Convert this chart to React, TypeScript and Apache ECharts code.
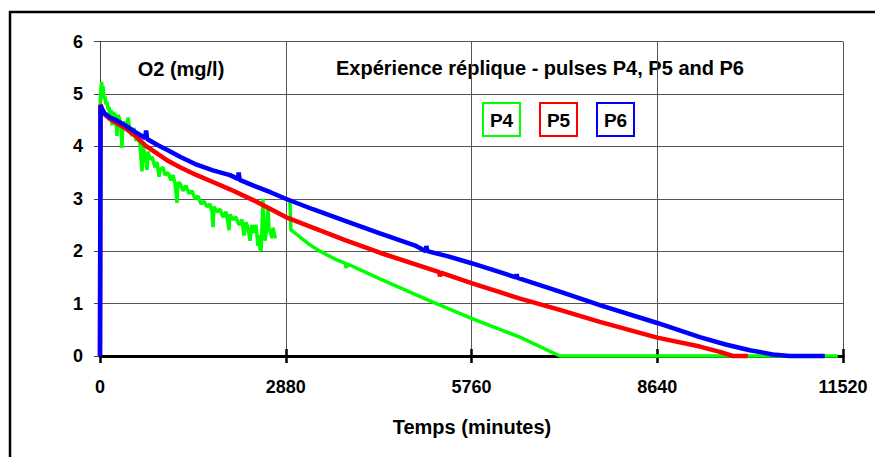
import React, { useEffect, useRef } from "react";
import * as echarts from "echarts";

const xTickStep = 2880;
const xMax = 11520;
const yMax = 6;
const seriesNames = ["P4", "P5", "P6"];
const seriesColors = ["#00ff00", "#ff0000", "#0000ff"];
const chartTitle = "Expérience réplique - pulses P4, P5 and P6";
const yTitle = "O2 (mg/l)";
const xTitle = "Temps (minutes)";

// P4 (green) — time in minutes, O2 in mg/l
const p4Data: (number | null)[][] = [
  [0, 0], [5, 4.9], [15, 5.1], [26, 5.23], [39, 5.0], [46, 5.15], [62, 4.9], [78, 4.95],
  [93, 4.8], [108, 4.85], [124, 4.7], [140, 4.75], [155, 4.55], [170, 4.7], [186, 4.4],
  [201, 4.65], [232, 4.6], [248, 4.45], [264, 4.2], [279, 4.6], [310, 4.5], [326, 4.35],
  [341, 3.97], [356, 4.45], [388, 4.45], [419, 4.3], [434, 4.55], [465, 4.3], [496, 4.2],
  [527, 4.35], [558, 4.1], [589, 4.2], [620, 4.05], [651, 3.52], [667, 4.0], [698, 3.85],
  [729, 3.55], [744, 3.9], [775, 3.75], [806, 3.8], [853, 3.6], [884, 3.7], [915, 3.42],
  [930, 3.55], [977, 3.6], [1008, 3.45], [1054, 3.5], [1100, 3.35], [1132, 3.45], [1163, 3.3],
  [1194, 2.92], [1209, 3.3], [1240, 3.3], [1287, 3.15], [1333, 3.25], [1380, 3.1], [1426, 3.15],
  [1473, 3.0], [1519, 3.05], [1566, 2.9], [1612, 2.95], [1659, 2.85], [1705, 2.9], [1736, 2.75],
  [1752, 2.46], [1767, 2.85], [1814, 2.75], [1860, 2.8], [1907, 2.65], [1953, 2.75], [1984, 2.55],
  [2000, 2.4], [2015, 2.7], [2062, 2.6], [2108, 2.65], [2155, 2.5], [2201, 2.6], [2232, 2.3],
  [2263, 2.55], [2294, 2.45], [2325, 2.2], [2356, 2.5], [2387, 2.35], [2418, 2.5], [2449, 2.1],
  [2465, 2.3], [2480, 2.05], [2496, 2.0], [2511, 2.4], [2527, 3.0], [2542, 2.5], [2558, 2.2],
  [2589, 2.45], [2604, 2.85], [2620, 2.4], [2635, 2.4], [2666, 2.25], [2682, 2.45], [2713, 2.27],
  [2740, 2.27], [2760, null], [2945, 2.95], [2960, 2.4], [2990, 2.38], [3100, 2.27], [3255, 2.12],
  [3410, 2.0], [3640, 1.85], [3800, 1.77], [3815, 1.68], [3830, 1.76], [4340, 1.47], [5115, 1.05],
  [5760, 0.72], [6510, 0.36], [7130, 0], [11440, 0],
];

// P5 (red)
const p5Data: number[][] = [
  [0, 0], [8, 4.8], [30, 4.72], [78, 4.6], [155, 4.52], [250, 4.45], [388, 4.35], [550, 4.2],
  [700, 4.02], [900, 3.85], [1060, 3.72], [1240, 3.6], [1500, 3.45], [1750, 3.32], [2015, 3.18],
  [2400, 2.96], [2880, 2.65], [3300, 2.45], [3800, 2.21], [4340, 1.97], [5260, 1.6], [5270, 1.52],
  [5285, 1.59], [5760, 1.39], [6500, 1.1], [7130, 0.88], [7750, 0.65], [8640, 0.35],
  [9300, 0.18], [9610, 0.08], [9812, 0.0], [10044, 0],
];

// P6 (blue)
const p6Data: number[][] = [
  [0, 0], [8, 4.78], [30, 4.7], [80, 4.62], [155, 4.55], [250, 4.5], [390, 4.4], [550, 4.27],
  [700, 4.16], [715, 4.3], [730, 4.14], [900, 4.02], [1060, 3.92], [1240, 3.8], [1500, 3.65],
  [1750, 3.54], [2015, 3.45], [2140, 3.38], [2150, 3.5], [2165, 3.36], [2400, 3.24],
  [2650, 3.12], [2880, 3.0], [3300, 2.8], [3800, 2.58], [4340, 2.34], [4900, 2.1], [5050, 2.0],
  [5060, 2.1], [5075, 2.0], [5400, 1.9], [5760, 1.77], [6200, 1.6], [6450, 1.5], [6460, 1.56],
  [6475, 1.49], [7130, 1.23], [7750, 0.97], [8640, 0.63], [9300, 0.36], [9700, 0.22],
  [10075, 0.11], [10432, 0.03], [10695, 0], [11238, 0],
];

const allData = [p4Data, p5Data, p6Data];
const lineWidths = [3.5, 4.5, 4.5];
const legendBoxX = [483, 540, 597];

const FONT = '"Liberation Sans", Arial, sans-serif';

export default function App() {
  const ref = useRef<HTMLDivElement>(null);
  useEffect(() => {
    if (!ref.current) return;
    const chart = echarts.init(ref.current, null, { renderer: "svg" });
    const legendGraphics = seriesNames.map((name, i) => ({
      type: "group",
      x: legendBoxX[i],
      y: 103,
      children: [
        {
          type: "rect",
          shape: { x: 0, y: 0, width: 37, height: 33 },
          style: { fill: "#ffffff", stroke: seriesColors[i], lineWidth: 2 },
        },
        {
          type: "text",
          style: {
            text: name,
            x: 18.5,
            y: 17,
            align: "center",
            verticalAlign: "middle",
            fill: "#000",
            fontSize: 19,
            fontWeight: "bold",
            fontFamily: FONT,
          },
        },
      ],
    }));
    chart.setOption({
      animation: false,
      backgroundColor: "#ffffff",
      grid: { left: 100, right: 32, top: 41.5, bottom: 101, containLabel: false },
      xAxis: [
        {
          type: "value",
          min: 0,
          max: xMax,
          interval: xTickStep,
          position: "bottom",
          axisLine: { show: true, lineStyle: { color: "#000", width: 3 } },
          axisTick: { show: true, inside: false, length: 7, lineStyle: { color: "#000", width: 2.5 } },
          axisLabel: {
            show: true,
            margin: 22,
            color: "#000",
            fontSize: 18,
            fontWeight: "bold",
            fontFamily: FONT,
            formatter: (v: number) => String(v),
          },
          splitLine: { show: true, lineStyle: { color: "#555", width: 1 } },
        },
        {
          type: "value",
          min: 0,
          max: xMax,
          interval: xTickStep,
          position: "bottom",
          axisLine: { show: false },
          axisTick: { show: true, inside: true, length: 7, lineStyle: { color: "#000", width: 2.5 } },
          axisLabel: { show: false },
          splitLine: { show: false },
        },
      ],
      yAxis: {
        type: "value",
        min: 0,
        max: yMax,
        interval: 1,
        axisLine: { show: true, lineStyle: { color: "#444", width: 1 } },
        axisTick: { show: true, inside: false, length: 6, lineStyle: { color: "#444", width: 1 } },
        axisLabel: {
          margin: 17,
          color: "#000",
          fontSize: 18,
          fontWeight: "bold",
          fontFamily: FONT,
        },
        splitLine: { show: true, lineStyle: { color: "#555", width: 1 } },
      },
      series: seriesNames.map((name, i) => ({
        name,
        type: "line",
        xAxisIndex: 0,
        data: allData[i],
        showSymbol: false,
        symbol: "none",
        clip: false,
        connectNulls: false,
        lineStyle: { color: seriesColors[i], width: lineWidths[i] },
        itemStyle: { color: seriesColors[i] },
        z: 2 + i,
      })),
      graphic: [
        {
          type: "rect",
          shape: { x: 10, y: 12, width: 900, height: 500 },
          style: { fill: "none", stroke: "#000", lineWidth: 2.5 },
          silent: true,
        },
        {
          type: "text",
          style: {
            text: yTitle,
            x: 181,
            y: 69,
            align: "center",
            verticalAlign: "middle",
            fill: "#000",
            fontSize: 20,
            fontWeight: "bold",
            fontFamily: FONT,
          },
        },
        {
          type: "text",
          style: {
            text: chartTitle,
            x: 540,
            y: 68,
            align: "center",
            verticalAlign: "middle",
            fill: "#000",
            fontSize: 20,
            fontWeight: "bold",
            fontFamily: FONT,
          },
        },
        {
          type: "text",
          style: {
            text: xTitle,
            x: 472,
            y: 427,
            align: "center",
            verticalAlign: "middle",
            fill: "#000",
            fontSize: 20,
            fontWeight: "bold",
            fontFamily: FONT,
          },
        },
        ...legendGraphics,
      ],
    });
    return () => chart.dispose();
  }, []);
  return (
    <div
      ref={ref}
      style={{ position: "fixed", left: 0, top: 0, width: 875, height: 457, background: "#fff" }}
    />
  );
}
